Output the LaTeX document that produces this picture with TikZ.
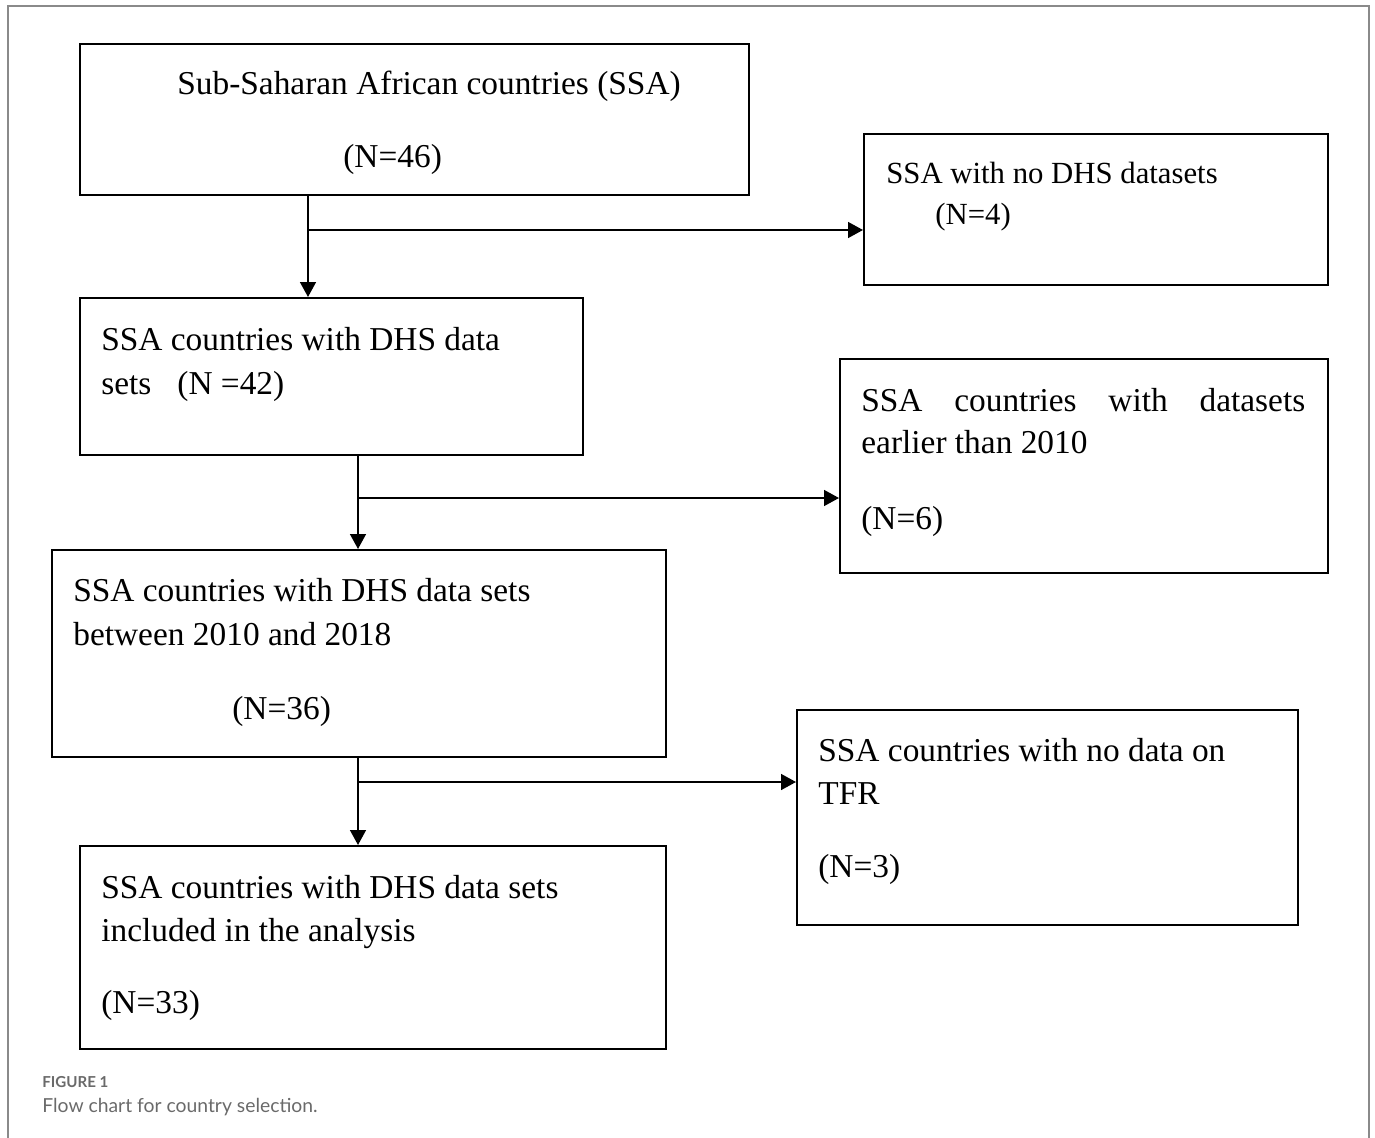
\documentclass[tikz,border=0pt]{standalone}
\usepackage{fontspec}
\setmainfont{Liberation Serif}
\newfontfamily\capfont{Lato}
\usetikzlibrary{arrows.meta}
\definecolor{framegray}{HTML}{8A8A8A}
\definecolor{capgray}{HTML}{6A6A6A}
\begin{document}
\begin{tikzpicture}[x=0.02cm,y=-0.02cm,
  flowbox/.style={draw=black,line width=1.1pt,rectangle,inner sep=0pt,anchor=north west},
  txt/.style={inner sep=0pt,anchor=base west,font=\fontsize{19}{23}\selectfont},
  txtsmall/.style={txt,font=\fontsize{17.5}{21}\selectfont},
  capa/.style={inner sep=0pt,anchor=base west,text=capgray,font=\capfont\bfseries\fontsize{8.6}{10}\selectfont},
  capb/.style={inner sep=0pt,anchor=base west,text=capgray,font=\capfont\fontsize{11}{13}\selectfont},
  arr/.style={line width=1.1pt,-{Triangle[length=8.5pt,width=9pt]}},
  conn/.style={line width=1.1pt}]
\useasboundingbox (0,0) rectangle (1375,1138);
% outer frame
\draw[framegray,line width=1.1pt] (8,1138) -- (8,6) -- (1369,6) -- (1369,1138);

% boxes
\node[flowbox,minimum width=669*0.02cm,minimum height=151*0.02cm] (b1) at (79,43) {};
\node[flowbox,minimum width=464*0.02cm,minimum height=151*0.02cm] (b2) at (863,133) {};
\node[flowbox,minimum width=503*0.02cm,minimum height=157*0.02cm] (b3) at (79,297) {};
\node[flowbox,minimum width=488*0.02cm,minimum height=214*0.02cm] (b4) at (839,358) {};
\node[flowbox,minimum width=614*0.02cm,minimum height=207*0.02cm] (b5) at (51,549) {};
\node[flowbox,minimum width=501*0.02cm,minimum height=215*0.02cm] (b6) at (796,709) {};
\node[flowbox,minimum width=586*0.02cm,minimum height=203*0.02cm] (b7) at (79,845) {};

% texts
\node[txt] (t1a) at (177,95) {Sub-Saharan African countries (SSA)};
\node[txt] (t1b) at (343,168) {(N=46)};
\node[txtsmall] (t2a) at (886,184) {SSA with no DHS datasets};
\node[txtsmall] (t2b) at (935,225) {(N=4)};
\node[txt] (t3a) at (101,350) {SSA countries with DHS data};
\node[txt] (t3b) at (101,394) {sets\hspace{0.52cm}(N =42)};
\node[txt] (t4a) at (861,411) {\makebox[8.88cm][s]{SSA\hfill countries\hfill with\hfill datasets}};
\node[txt] (t4b) at (861,453) {earlier than 2010};
\node[txt] (t4c) at (861,529) {(N=6)};
\node[txt] (t5a) at (73,601) {SSA countries with DHS data sets};
\node[txt] (t5b) at (73,645) {between 2010 and 2018};
\node[txt] (t5c) at (232,719) {(N=36)};
\node[txt] (t6a) at (818,761) {SSA countries with no data on};
\node[txt] (t6b) at (818,804) {TFR};
\node[txt] (t6c) at (818,877) {(N=3)};
\node[txt] (t7a) at (101,898) {SSA countries with DHS data sets};
\node[txt] (t7b) at (101,941) {included in the analysis};
\node[txt] (t7c) at (101,1013) {(N=33)};

% caption
\node[capa] (cap1) at (42,1087) {FIGURE 1};
\node[capb] (cap2) at (42,1112) {Flow chart for country selection.};

% connectors
\coordinate (v1) at (308,0);
\coordinate (j1) at (308,230);
\coordinate (v2) at (358,0);
\coordinate (j2) at (358,498);
\coordinate (j3) at (358,782);
\draw[arr] (b1.south -| v1) -- (b3.north -| v1);
\draw[arr] (j1) -- (j1 -| b2.west);
\draw[arr] (b3.south -| v2) -- (b5.north -| v2);
\draw[arr] (j2) -- (j2 -| b4.west);
\draw[arr] (b5.south -| v2) -- (b7.north -| v2);
\draw[arr] (j3) -- (j3 -| b6.west);
\end{tikzpicture}
\end{document}
